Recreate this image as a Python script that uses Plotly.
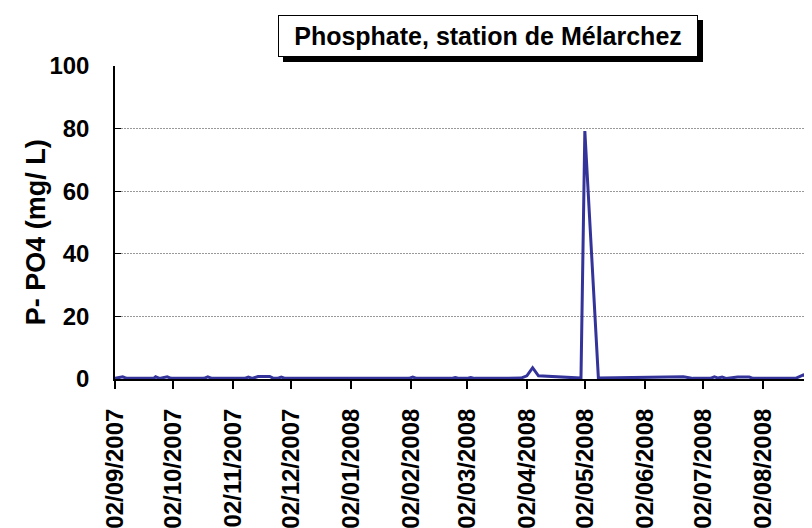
import plotly.graph_objects as go

dates = [
    "2007-09-02", "2007-09-06", "2007-09-08", "2007-09-22", "2007-09-23", "2007-09-25",
    "2007-09-29", "2007-10-01", "2007-10-18", "2007-10-20", "2007-10-22",
    "2007-11-08", "2007-11-10", "2007-11-12", "2007-11-15", "2007-11-21", "2007-11-23",
    "2007-11-25", "2007-11-27", "2007-11-29",
    "2008-02-01", "2008-02-03", "2008-02-05", "2008-02-23", "2008-02-25", "2008-02-27",
    "2008-03-02", "2008-03-04", "2008-03-06", "2008-03-30", "2008-04-02", "2008-04-05",
    "2008-04-08", "2008-04-27", "2008-04-30", "2008-05-02", "2008-05-09",
    "2008-06-22", "2008-06-27", "2008-07-06", "2008-07-08", "2008-07-10", "2008-07-12",
    "2008-07-14", "2008-07-20", "2008-07-26", "2008-07-28", "2008-08-19", "2008-08-23",
    "2008-08-26", "2008-08-31",
]
po4 = [
    0.2, 0.7, 0.2, 0.2, 0.7, 0.2,
    0.7, 0.2, 0.2, 0.7, 0.2,
    0.2, 0.6, 0.2, 0.8, 0.8, 0.2,
    0.2, 0.6, 0.2,
    0.2, 0.6, 0.2, 0.2, 0.5, 0.2,
    0.2, 0.5, 0.2, 0.3, 1.0, 3.6,
    1.0, 0.4, 0.3, 79.2, 0.3,
    0.7, 0.2, 0.2, 0.7, 0.3, 0.6,
    0.2, 0.6, 0.6, 0.2, 0.2, 1.3,
    0.3, 0.3,
]
tick_dates = ["2007-09-02", "2007-10-02", "2007-11-02", "2007-12-02", "2008-01-02",
              "2008-02-02", "2008-03-02", "2008-04-02", "2008-05-02", "2008-06-02",
              "2008-07-02", "2008-08-02"]
tick_labels = ["02/09/2007", "02/10/2007", "02/11/2007", "02/12/2007", "02/01/2008",
               "02/02/2008", "02/03/2008", "02/04/2008", "02/05/2008", "02/06/2008",
               "02/07/2008", "02/08/2008"]
y_ticks = [0, 20, 40, 60, 80, 100]

title_text = "Phosphate, station de Mélarchez"
y_title = "P- PO4 (mg/ L)"

FONT = "Arial, Liberation Sans, sans-serif"

fig = go.Figure()
fig.add_trace(go.Scatter(
    x=dates, y=po4, mode="lines",
    line=dict(color="#333399", width=3),
    showlegend=False, cliponaxis=True,
))

fig.update_layout(
    width=812, height=528,
    margin=dict(l=107, r=7, t=58, b=157),
    paper_bgcolor="white", plot_bgcolor="white",
    font=dict(family=FONT, color="black"),
    xaxis=dict(
        type="date", automargin=False,
        range=["2007-09-02", "2008-08-28"],
        tickmode="array", tickvals=tick_dates, ticktext=tick_labels,
        tickangle=-90, tickfont=dict(size=24, family=FONT, color="black", weight="bold"),
        ticks="outside", ticklen=8, tickcolor="black", tickwidth=1.5,
        showline=True, linecolor="black", linewidth=2,
        showgrid=False, zeroline=False,
        ticklabelstandoff=10,
    ),
    yaxis=dict(
        range=[0, 100], automargin=False,
        tickmode="array", tickvals=y_ticks,
        tickfont=dict(size=24, family=FONT, color="black", weight="bold"),
        ticks="inside", ticklen=6, tickcolor="black",
        showline=True, linecolor="black", linewidth=1.5,
        showgrid=True, gridcolor="#999999", gridwidth=1, griddash="2px,1px",
        zeroline=False,
        ticklabelstandoff=19,
    ),
)

# y-axis title as annotation
fig.add_annotation(
    xref="paper", yref="paper", x=-0.114, y=0.47, xanchor="center", yanchor="middle",
    text=y_title, textangle=-90, showarrow=False,
    font=dict(size=27, family=FONT, color="black", weight="bold"),
)

# title box shadow (empty box)
fig.add_annotation(
    xref="paper", yref="paper", x=0.5344, y=1.1627, yanchor="top",
    xshift=5, yshift=-5,
    text=" ", showarrow=False, bgcolor="black", bordercolor="black",
    borderwidth=1, borderpad=3, width=412, height=34,
)
fig.add_annotation(
    xref="paper", yref="paper", x=0.5344, y=1.1627, yanchor="top",
    text=title_text, showarrow=False, bgcolor="white", bordercolor="black",
    borderwidth=1, borderpad=3, width=412, height=34,
    font=dict(size=25, family=FONT, color="black", weight="bold"),
)

fig.write_html("out.html")
